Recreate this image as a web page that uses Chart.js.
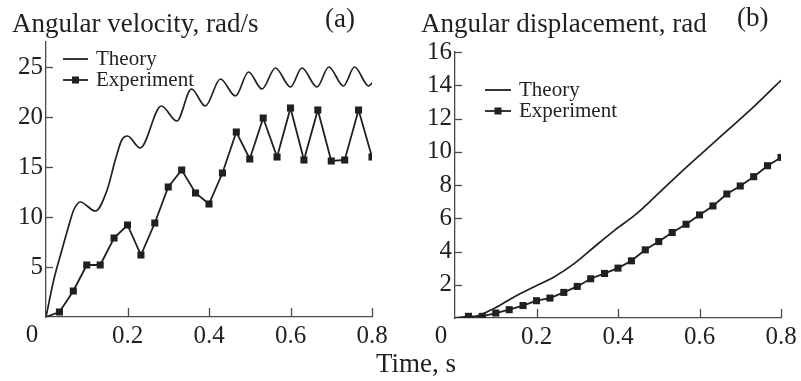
<!DOCTYPE html>
<html>
<head>
<meta charset="utf-8">
<script src="https://cdn.jsdelivr.net/npm/chart.js@4.4.0/dist/chart.umd.min.js"></script>
<style>
  body { margin: 0; background: #fff; }
  #wrap { position: relative; width: 801px; height: 381px; overflow: hidden; font-family: 'Liberation Serif', serif; color: #231f20; }
  .txt { position: absolute; font-size: 27px; line-height: 30px; white-space: nowrap; }
  #cA { position: absolute; left: 0; top: 0; }
  #cB { position: absolute; left: 400px; top: 0; }
</style>
</head>
<body>
<div id="wrap">
  <canvas id="cA" width="400" height="381"></canvas>
  <canvas id="cB" width="401" height="381"></canvas>
  <div class="txt" style="left:12px; top:8px;">Angular velocity, rad/s</div>
  <div class="txt" style="left:325px; top:3px;">(a)</div>
  <div class="txt" style="left:421px; top:8px;">Angular displacement, rad</div>
  <div class="txt" style="left:737px; top:2px;">(b)</div>
  <div class="txt" style="left:376px; top:348px;">Time, s</div>
</div>
<script>
// --- data ---
const timeExp = [0, 0.033, 0.067, 0.1, 0.133, 0.167, 0.2, 0.233, 0.267, 0.3, 0.333, 0.367, 0.4,
                 0.433, 0.467, 0.5, 0.533, 0.567, 0.6, 0.633, 0.667, 0.7, 0.733, 0.767, 0.8];
const velExp = [0, 0.5, 2.6, 5.2, 5.2, 7.9, 9.2, 6.2, 9.4, 13.0, 14.7, 12.4, 11.3,
                14.4, 18.5, 15.8, 19.9, 16.0, 20.9, 15.7, 20.7, 15.6, 15.7, 20.7, 16.0];
const dispExp = [0, 0.1, 0.1, 0.3, 0.5, 0.75, 1.04, 1.2, 1.54, 1.9, 2.36, 2.68, 3.0,
                 3.44, 4.1, 4.6, 5.14, 5.64, 6.2, 6.74, 7.46, 7.94, 8.5, 9.16, 9.66];

const velTheoryT = [0, 0.019, 0.039, 0.055, 0.068, 0.084, 0.121, 0.15, 0.17, 0.186, 0.2, 0.231,
                    0.283, 0.321, 0.357, 0.391, 0.428, 0.465, 0.497, 0.53, 0.563, 0.6, 0.628,
                    0.665, 0.694, 0.73, 0.757, 0.792, 0.8];
const velTheory = [0, 3.7, 6.7, 9.0, 10.7, 11.5, 10.6, 12.7, 15.7, 17.7, 18.1, 16.9,
                   21.1, 19.6, 22.8, 21.1, 23.8, 22.1, 24.5, 22.8, 24.9, 23.0, 24.9,
                   23.0, 25.0, 23.1, 25.0, 23.1, 23.4];

const dispTheoryT = [0, 0.04, 0.098, 0.147, 0.196, 0.245, 0.294, 0.343, 0.393, 0.442, 0.491,
                     0.56, 0.642, 0.724, 0.8];
const dispTheory = [0, 0.03, 0.6, 1.3, 1.9, 2.5, 3.3, 4.3, 5.3, 6.2, 7.3, 8.9, 10.7, 12.5, 14.3];

const xTicks = [0.2, 0.4, 0.6, 0.8];
const velTicks = [5, 10, 15, 20, 25];
const dispTicks = [2, 4, 6, 8, 10, 12, 14, 16];

const ink = '#231f20';
const axisInk = '#4a4a4a';
const serif = 'Liberation Serif';

function pts(xs, ys) {
    return xs.map((v, i) => ({x: v, y: ys[i]}));
}

// inward tick marks, the shared "0" and the legend
const figureBits = {
    id: 'figureBits',
    afterDatasetsDraw(chart, args, o) {
        const ctx = chart.ctx;
        const x = chart.scales.x, y = chart.scales.y;
        ctx.save();
        ctx.strokeStyle = axisInk;
        ctx.lineWidth = 1.3;
        x.ticks.forEach(t => {
            const px = Math.round(x.getPixelForValue(t.value)) + 0.5;
            ctx.beginPath();
            ctx.moveTo(px, y.bottom);
            ctx.lineTo(px, y.bottom - o.xLen);
            ctx.stroke();
        });
        y.ticks.forEach(t => {
            const py = Math.round(y.getPixelForValue(t.value)) + 0.5;
            ctx.beginPath();
            ctx.moveTo(x.left, py);
            ctx.lineTo(x.left + o.yLen, py);
            ctx.stroke();
        });

        ctx.fillStyle = ink;
        ctx.font = '25px "' + serif + '"';
        ctx.textAlign = 'center';
        ctx.textBaseline = 'middle';
        ctx.fillText('0', x.left - 14, y.bottom + 18);

        // legend
        ctx.font = '21px "' + serif + '"';
        ctx.textAlign = 'left';
        chart.data.datasets.forEach((ds, i) => {
            const ly = o.legY[i];
            ctx.strokeStyle = ink;
            ctx.lineWidth = 1.8;
            ctx.beginPath();
            ctx.moveTo(o.legX, ly);
            ctx.lineTo(o.legX + o.legW, ly);
            ctx.stroke();
            if (ds.pointStyle === 'rect') {
                ctx.fillStyle = ink;
                ctx.fillRect(o.legX + o.legW / 2 - 3.5, ly - 3.5, 7, 7);
            }
            ctx.fillStyle = ink;
            ctx.fillText(ds.label, o.legX + o.legW + 8, ly);
        });
        ctx.restore();
    }
};

function makeChart(id, theory, exp, yMax, yTicks, yWidth, pad, xH, legend) {
    return new Chart(document.getElementById(id), {
        type: 'line',
        data: {
            datasets: [{
                label: 'Theory',
                data: theory,
                borderColor: ink,
                borderWidth: 1.7,
                pointRadius: 0,
                cubicInterpolationMode: 'monotone',
                pointStyle: false
            }, {
                label: 'Experiment',
                data: exp,
                borderColor: ink,
                backgroundColor: ink,
                borderWidth: 1.8,
                pointStyle: 'rect',
                pointRadius: c => c.dataIndex === 0 ? 0 : 5,
                pointBorderWidth: 0,
                tension: 0
            }]
        },
        options: {
            responsive: false,
            animation: false,
            layout: {padding: pad},
            plugins: {legend: {display: false}, tooltip: {enabled: false}, figureBits: legend},
            scales: {
                x: {
                    type: 'linear',
                    min: 0,
                    max: 0.8,
                    afterBuildTicks: s => { s.ticks = xTicks.map(v => ({value: v})); },
                    afterFit: s => { s.height = xH; },
                    grid: {drawOnChartArea: false, drawTicks: false},
                    border: {display: true, color: axisInk, width: 1.3},
                    ticks: {color: ink, padding: 4, maxRotation: 0, font: {family: serif, size: 25}}
                },
                y: {
                    min: 0,
                    max: yMax,
                    afterBuildTicks: s => { s.ticks = yTicks.map(v => ({value: v})); },
                    afterFit: s => { s.width = yWidth; },
                    grid: {drawOnChartArea: false, drawTicks: false},
                    border: {display: true, color: axisInk, width: 1.3},
                    ticks: {color: ink, padding: 3, font: {family: serif, size: 25}}
                }
            }
        },
        plugins: [figureBits]
    });
}

const chartA = makeChart('cA', pts(velTheoryT, velTheory), pts(timeExp, velExp),
    27.5, velTicks, 46, {left: 0, top: 42, right: 28, bottom: 0}, 64,
    {xLen: 9, yLen: 7, legX: 63, legW: 25, legY: [59, 80]});

const chartB = makeChart('cB', pts(dispTheoryT, dispTheory), pts(timeExp, dispExp),
    16, dispTicks, 55, {left: 0, top: 52, right: 20, bottom: 0}, 63,
    {xLen: 9, yLen: 7, legX: 85, legW: 26, legY: [90, 111]});
</script>
</body>
</html>
